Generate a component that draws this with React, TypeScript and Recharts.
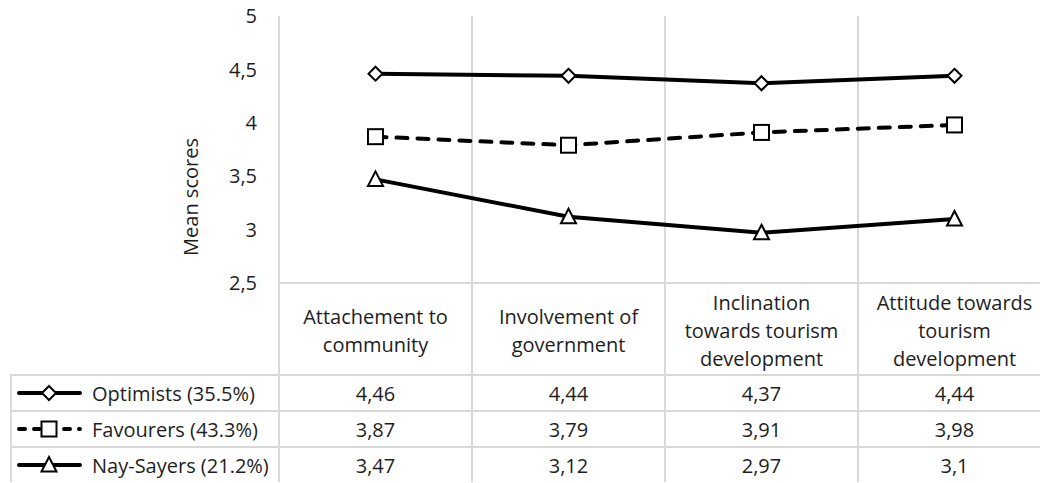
import { LineChart, Line, XAxis, YAxis, CartesianGrid } from 'recharts';

const categories = ['Attachement to\ncommunity', 'Involvement of\ngovernment', 'Inclination\ntowards tourism\ndevelopment', 'Attitude towards\ntourism\ndevelopment'];
const optimists = [4.46, 4.44, 4.37, 4.44];
const favourers = [3.87, 3.79, 3.91, 3.98];
const naySayers = [3.47, 3.12, 2.97, 3.1];
const yTicks = [2.5, 3, 3.5, 4, 4.5, 5];

const seriesList = [
  { key: 'optimists', name: 'Optimists (35.5%)', values: optimists, marker: 'diamond', dash: undefined },
  { key: 'favourers', name: 'Favourers (43.3%)', values: favourers, marker: 'square', dash: '11 10' },
  { key: 'naySayers', name: 'Nay-Sayers (21.2%)', values: naySayers, marker: 'triangle', dash: undefined },
];

const data = categories.map((c, i) => ({
  category: c,
  optimists: optimists[i],
  favourers: favourers[i],
  naySayers: naySayers[i],
}));

const FONT = '"Open Sans", "Noto Sans", sans-serif';
const GRID = '#d9d9d9';
const TEXT = '#1e1e1e';

// layout
const CHART_W = 1060;
const CHART_H = 483;
const PLOT_LEFT = 279;
const PLOT_TOP = 16;
const PLOT_BOTTOM = 283;
const COL_W = 193;
const HEADER_H = 92;
const ROW_H = 36;
const LEGEND_LEFT = 10;

const fmt = (v: number) => String(v).replace('.', ',');

function Marker({ type, cx, cy }: { type: string; cx: number; cy: number }) {
  const common = { fill: '#fff', stroke: '#000', strokeWidth: 2 };
  if (type === 'diamond') {
    return <path d={`M${cx},${cy - 7} L${cx + 7},${cy} L${cx},${cy + 7} L${cx - 7},${cy} Z`} {...common} />;
  }
  if (type === 'square') {
    return <rect x={cx - 7.5} y={cy - 7.5} width={15} height={15} {...common} />;
  }
  return <path d={`M${cx},${cy - 8} L${cx + 7.5},${cy + 6.5} L${cx - 7.5},${cy + 6.5} Z`} {...common} />;
}

function LegendIcon({ marker, dash }: { marker: string; dash?: string }) {
  return (
    <svg width={72} height={20} style={{ display: 'block', flexShrink: 0 }}>
      <line x1={7} y1={10} x2={68} y2={10} stroke="#000" strokeWidth={4}
        strokeDasharray={dash ? '6 9' : undefined} strokeLinecap="round" />
      <Marker type={marker} cx={37} cy={10} />
    </svg>
  );
}

export default function App() {
  return (
    <div style={{ position: 'absolute', left: 0, top: 0, width: 1040, height: 483, overflow: 'hidden', background: '#fff', fontFamily: FONT, color: TEXT }}>
      <LineChart
        width={CHART_W}
        height={CHART_H}
        data={data}
        margin={{ top: PLOT_TOP, right: CHART_W - PLOT_LEFT - COL_W * 4, bottom: CHART_H - PLOT_BOTTOM, left: 0 }}
      >
        <CartesianGrid
          horizontal={false}
          stroke={GRID}
          strokeWidth={2}
          verticalCoordinatesGenerator={({ offset }: any) =>
            [1, 2, 3].map((i) => offset.left + (i * offset.width) / categories.length)
          }
        />
        <XAxis dataKey="category" hide padding={{ left: COL_W / 2, right: COL_W / 2 }} />
        <YAxis
          width={PLOT_LEFT}
          domain={[2.5, 5]}
          ticks={yTicks}
          tickFormatter={fmt}
          tickLine={false}
          tickSize={6}
          tickMargin={16}
          axisLine={{ stroke: GRID, strokeWidth: 2 }}
          tick={{ fill: TEXT, fontSize: 20, fontFamily: FONT }}
          label={{
            content: () => (
              <text x={190} y={197} transform="rotate(-90 190 197)" textAnchor="middle" dominantBaseline="central"
                fill={TEXT} fontSize={20} fontFamily={FONT}>
                Mean scores
              </text>
            ),
          }}
        />
        {seriesList.map((s) => (
          <Line
            key={s.key}
            dataKey={s.key}
            name={s.name}
            stroke="#000"
            strokeWidth={4}
            strokeDasharray={s.dash}
            strokeLinecap={s.dash ? 'round' : 'butt'}
            isAnimationActive={false}
            dot={(p: any) => <Marker key={`${s.key}-${p.index}`} type={s.marker} cx={p.cx} cy={p.cy} />}
            activeDot={false}
          />
        ))}
      </LineChart>

      {/* data table below the plot */}
      {categories.map((c, i) => (
        <div
          key={`h-${i}`}
          style={{
            position: 'absolute',
            left: PLOT_LEFT - 1 + i * COL_W,
            top: PLOT_BOTTOM - 1,
            width: COL_W,
            height: HEADER_H,
            boxSizing: 'border-box',
            borderLeft: `2px solid ${GRID}`,
            borderTop: `2px solid ${GRID}`,
            display: 'flex',
            alignItems: 'center',
            justifyContent: 'center',
            textAlign: 'center',
            whiteSpace: 'pre-line',
            fontSize: 20,
            lineHeight: '28px',
            paddingTop: 3,
          }}
        >
          {c}
        </div>
      ))}
      {seriesList.map((s, r) => {
        const top = PLOT_BOTTOM - 1 + HEADER_H + r * ROW_H;
        return (
          <div key={`r-${s.key}`}>
            <div
              style={{
                position: 'absolute',
                left: LEGEND_LEFT,
                top,
                width: PLOT_LEFT - 1 - LEGEND_LEFT,
                height: ROW_H,
                boxSizing: 'border-box',
                borderLeft: `2px solid ${GRID}`,
                borderTop: `2px solid ${GRID}`,
                display: 'flex',
                alignItems: 'center',
                fontSize: 20,
                whiteSpace: 'nowrap',
              }}
            >
              <LegendIcon marker={s.marker} dash={s.dash} />
              <span style={{ marginLeft: 8 }}>{s.name}</span>
            </div>
            {s.values.map((v, i) => (
              <div
                key={`c-${s.key}-${i}`}
                style={{
                  position: 'absolute',
                  left: PLOT_LEFT - 1 + i * COL_W,
                  top,
                  width: COL_W,
                  height: ROW_H,
                  boxSizing: 'border-box',
                  borderLeft: `2px solid ${GRID}`,
                  borderTop: `2px solid ${GRID}`,
                  display: 'flex',
                  alignItems: 'center',
                  justifyContent: 'center',
                  fontSize: 20,
                }}
              >
                {fmt(v)}
              </div>
            ))}
          </div>
        );
      })}
    </div>
  );
}
